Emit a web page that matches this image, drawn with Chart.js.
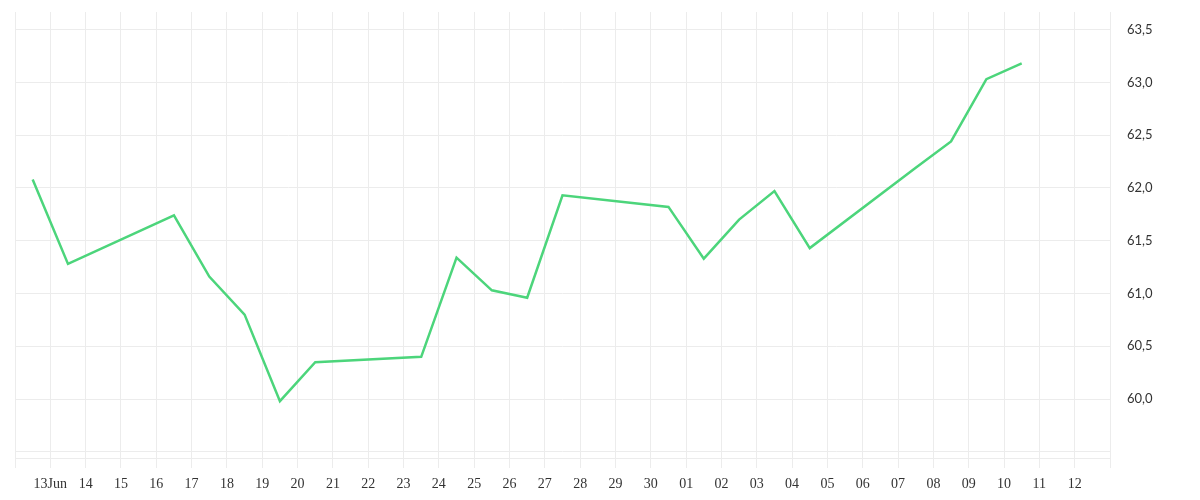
<!DOCTYPE html>
<html>
<head>
<meta charset="utf-8">
<script src="https://cdn.jsdelivr.net/npm/chart.js@4"></script>
<style>
  html, body { margin: 0; padding: 0; background: #fff; }
  #wrap { width: 1200px; height: 500px; position: relative; }
</style>
</head>
<body>
<div id="wrap"><canvas id="c"></canvas></div>
<script>
// Trading dates (2025) and values
const dates = [
  '2025-06-12','2025-06-13','2025-06-16','2025-06-17','2025-06-18','2025-06-19','2025-06-20',
  '2025-06-23','2025-06-24','2025-06-25','2025-06-26','2025-06-27','2025-06-30',
  '2025-07-01','2025-07-02','2025-07-03','2025-07-04','2025-07-07','2025-07-08','2025-07-09','2025-07-10'
];
const values = [
  62.08, 61.28, 61.74, 61.16, 60.80, 59.98, 60.35,
  60.40, 61.34, 61.03, 60.96, 61.93, 61.82,
  61.33, 61.70, 61.97, 61.43, 62.19, 62.44, 63.03, 63.18
];
// Day ticks from 12 Jun (index 0) to 13 Jul (index 31)
const tickLabels = [
  '', '13Jun', '14', '15', '16', '17', '18', '19', '20', '21', '22', '23', '24', '25', '26', '27', '28', '29', '30',
  '01', '02', '03', '04', '05', '06', '07', '08', '09', '10', '11', '12', ''
];
const yTicks = [59.5, 60.0, 60.5, 61.0, 61.5, 62.0, 62.5, 63.0, 63.5];
const yHidden = [59.5];

const startDay = Date.UTC(2025, 5, 12);
function dayIndex(s) {
  const p = s.split('-').map(Number);
  return (Date.UTC(p[0], p[1] - 1, p[2]) - startDay) / 86400000 + 0.5; // noon of the day
}
const points = dates.map((d, i) => ({ x: dayIndex(d), y: values[i] }));

const gridColor = '#ececec';

new Chart(document.getElementById('c'), {
  type: 'line',
  data: {
    datasets: [{
      data: points,
      borderColor: '#4cd57b',
      borderWidth: 2.5,
      pointRadius: 0,
      pointHoverRadius: 0,
      tension: 0,
      fill: false
    }]
  },
  options: {
    responsive: true,
    maintainAspectRatio: false,
    animation: false,
    layout: { padding: { left: 15, top: 12, right: 0, bottom: 0 } },
    plugins: { legend: { display: false }, tooltip: { enabled: false } },
    scales: {
      x: {
        type: 'linear',
        min: 0,
        max: 31,
        afterBuildTicks: (scale) => {
          scale.ticks = tickLabels.map((_, i) => ({ value: i }));
        },
        afterFit: (scale) => { scale.height = 42; scale.paddingLeft = 0; scale.paddingRight = 0; },
        grid: { color: gridColor, drawTicks: true, tickLength: 10, tickColor: gridColor },
        border: { color: gridColor },
        ticks: {
          autoSkip: false,
          maxRotation: 0,
          padding: 8,
          color: '#333',
          font: { family: '"Liberation Serif", serif', size: 14 },
          callback: (v) => tickLabels[Math.round(v)] ?? ''
        }
      },
      y: {
        position: 'right',
        min: 59.442,
        max: 63.666,
        afterBuildTicks: (scale) => {
          scale.ticks = yTicks.map(v => ({ value: v }));
        },
        afterFit: (scale) => { scale.width = 90; scale.paddingTop = 0; scale.paddingBottom = 0; },
        grid: { color: gridColor, drawTicks: false },
        border: { color: gridColor },
        ticks: {
          padding: 17,
          color: '#333',
          font: { family: 'Lato, sans-serif', size: 13 },
          callback: (v) => yHidden.includes(v) ? '' : v.toFixed(1).replace('.', ',')
        }
      }
    }
  }
});
</script>
</body>
</html>
